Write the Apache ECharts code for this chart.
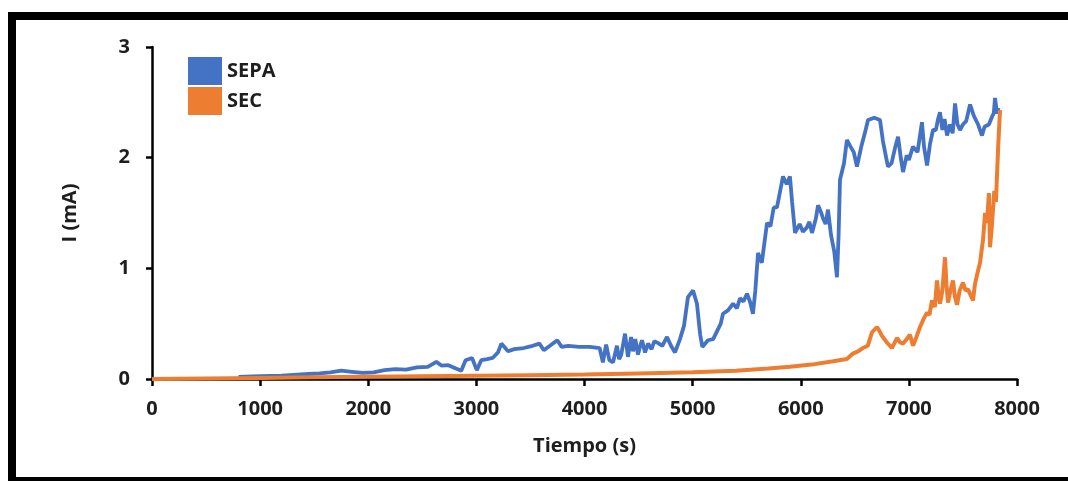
<!DOCTYPE html>
<html>
<head>
<meta charset="utf-8">
<script src="https://cdn.jsdelivr.net/npm/echarts@6/dist/echarts.min.js"></script>
<style>
html,body{margin:0;padding:0;background:#fff;width:1068px;height:481px;overflow:hidden;}
#frame{position:absolute;left:8px;top:12px;width:1200px;height:457px;border:8px solid #000;}
#chart{position:absolute;left:0;top:0;width:1068px;height:481px;}
</style>
</head>
<body>
<div id="frame"></div>
<div id="chart"></div>
<script>
const seriesNames = ['SEPA', 'SEC'];
const xTicks = [0, 8000, 1000];
const yTicks = [0, 3, 1];
const sepa = [
[800,0.02],[1000,0.025],[1200,0.03],[1450,0.045],[1550,0.05],[1650,0.06],[1750,0.075],[1850,0.065],[1950,0.055],[2050,0.06],
[2150,0.08],[2250,0.09],[2350,0.085],[2450,0.105],[2550,0.11],[2630,0.155],[2680,0.12],[2740,0.125],[2800,0.10],[2860,0.075],
[2900,0.17],[2960,0.19],[3004,0.08],[3045,0.17],[3100,0.18],[3150,0.19],[3200,0.24],[3231,0.32],[3293,0.25],[3350,0.27],
[3438,0.28],[3520,0.30],[3583,0.32],[3624,0.26],[3680,0.30],[3748,0.35],[3789,0.29],[3850,0.30],[3950,0.29],[4050,0.29],
[4140,0.28],[4170,0.15],[4200,0.31],[4230,0.17],[4264,0.15],[4300,0.30],[4320,0.18],[4340,0.22],[4375,0.41],[4402,0.20],[4430,0.38],
[4449,0.25],[4470,0.36],[4495,0.22],[4515,0.30],[4532,0.35],[4560,0.24],[4588,0.32],[4620,0.27],[4645,0.34],[4670,0.33],[4720,0.30],[4763,0.38],
[4800,0.30],[4837,0.24],[4883,0.36],[4920,0.48],[4957,0.74],[5004,0.80],[5040,0.68],[5070,0.40],[5090,0.29],[5142,0.35],
[5190,0.36],[5225,0.43],[5260,0.50],[5281,0.59],[5327,0.62],[5374,0.68],[5410,0.64],[5438,0.73],[5470,0.70],[5503,0.77],
[5530,0.70],[5558,0.59],[5580,0.80],[5605,1.14],[5640,1.05],[5688,1.41],[5720,1.38],[5750,1.55],[5780,1.55],[5836,1.83],
[5870,1.76],[5900,1.83],[5920,1.60],[5947,1.32],[5990,1.40],[6020,1.33],[6057,1.37],[6080,1.42],[6104,1.32],[6140,1.45],
[6160,1.57],[6190,1.50],[6206,1.45],[6230,1.40],[6252,1.53],[6280,1.30],[6310,1.15],[6335,0.92],[6350,1.30],[6363,1.80],
[6400,1.95],[6427,2.16],[6460,2.10],[6490,2.05],[6520,1.92],[6560,2.10],[6600,2.25],[6622,2.34],[6680,2.36],[6733,2.34],
[6760,2.15],[6790,2.00],[6807,1.92],[6840,1.95],[6870,2.08],[6900,2.19],[6925,2.00],[6946,1.87],[6980,2.02],[7000,1.98],
[7038,2.10],[7080,2.05],[7121,2.32],[7140,2.10],[7168,1.93],[7195,2.12],[7223,2.25],[7250,2.25],[7270,2.35],[7288,2.41],
[7310,2.25],[7330,2.35],[7353,2.20],[7380,2.30],[7405,2.22],[7427,2.49],[7450,2.30],[7473,2.25],[7500,2.30],[7530,2.33],
[7566,2.48],[7600,2.38],[7640,2.30],[7676,2.20],[7700,2.28],[7740,2.30],[7769,2.37],[7785,2.40],[7797,2.54],[7815,2.40],[7830,2.45]
];
const sec = [
[0,0.0],[500,0.005],[1000,0.01],[1500,0.015],[2000,0.02],[2500,0.025],[3000,0.03],[3500,0.035],[4000,0.04],[4500,0.05],
[5000,0.06],[5400,0.075],[5700,0.095],[5900,0.11],[6100,0.13],[6300,0.16],[6427,0.18],[6483,0.23],[6530,0.25],[6575,0.28],
[6620,0.30],[6658,0.42],[6705,0.47],[6730,0.43],[6751,0.39],[6797,0.33],[6843,0.28],[6890,0.37],[6920,0.33],[6946,0.32],
[6980,0.36],[7010,0.40],[7038,0.30],[7070,0.38],[7103,0.47],[7140,0.55],[7168,0.60],[7190,0.58],[7214,0.71],[7240,0.65],
[7260,0.89],[7275,0.75],[7288,0.68],[7310,0.80],[7334,1.10],[7348,0.85],[7362,0.69],[7385,0.80],[7408,0.89],[7425,0.75],
[7445,0.67],[7470,0.80],[7500,0.87],[7525,0.80],[7547,0.81],[7570,0.76],[7593,0.71],[7610,0.85],[7630,0.94],[7658,1.05],
[7686,1.26],[7705,1.50],[7723,1.41],[7740,1.68],[7750,1.19],[7765,1.35],[7778,1.35],[7790,1.70],[7805,1.60],[7826,2.10],[7843,2.43]
];

const FONT = 'Open Sans';
const TXT = '#1e1e1e';
const chart = echarts.init(document.getElementById('chart'), null, {renderer: 'canvas'});
chart.setOption({
  animation: false,
  grid: {left: 152, right: 51, top: 47, bottom: 102, containLabel: false},
  legend: {
    data: seriesNames, orient: 'vertical', left: 183, top: 52, icon: 'rect',
    itemWidth: 34, itemHeight: 28, itemGap: 2,
    textStyle: {fontFamily: FONT, fontWeight: 'bold', fontSize: 20, color: TXT, padding: [0, 0, 0, 0]}
  },
  xAxis: {
    type: 'value', min: xTicks[0], max: xTicks[1], interval: xTicks[2],
    name: 'Tiempo (s)', nameLocation: 'middle', nameGap: 57,
    nameTextStyle: {fontFamily: FONT, fontWeight: 'bold', fontSize: 20, color: TXT},
    axisLine: {show: true, lineStyle: {color: '#000', width: 2.5}},
    axisTick: {show: true, inside: false, length: 7, lineStyle: {color: '#000', width: 2.5}},
    axisLabel: {fontFamily: FONT, fontWeight: 'bold', fontSize: 20, color: TXT, margin: 20,
      formatter: v => String(v)},
    splitLine: {show: false}
  },
  yAxis: {
    type: 'value', min: yTicks[0], max: yTicks[1], interval: yTicks[2],
    name: 'I (mA)', nameLocation: 'middle', nameGap: 72, nameRotate: 90,
    nameTextStyle: {fontFamily: FONT, fontWeight: 'bold', fontSize: 20, color: TXT},
    axisLine: {show: true, lineStyle: {color: '#000', width: 2.5}},
    axisTick: {show: true, inside: false, length: 6, lineStyle: {color: '#000', width: 2.5}},
    axisLabel: {fontFamily: FONT, fontWeight: 'bold', fontSize: 20, color: TXT, margin: 22,
      formatter: v => String(v)},
    splitLine: {show: false}
  },
  series: [
    {name: seriesNames[0], type: 'line', data: sepa, showSymbol: false, symbol: 'none',
     itemStyle: {color: '#4472C4'}, lineStyle: {color: '#4472C4', width: 3.8}},
    {name: seriesNames[1], type: 'line', data: sec, showSymbol: false, symbol: 'none',
     itemStyle: {color: '#ED7D31'}, lineStyle: {color: '#ED7D31', width: 4}}
  ]
});
</script>
</body>
</html>
